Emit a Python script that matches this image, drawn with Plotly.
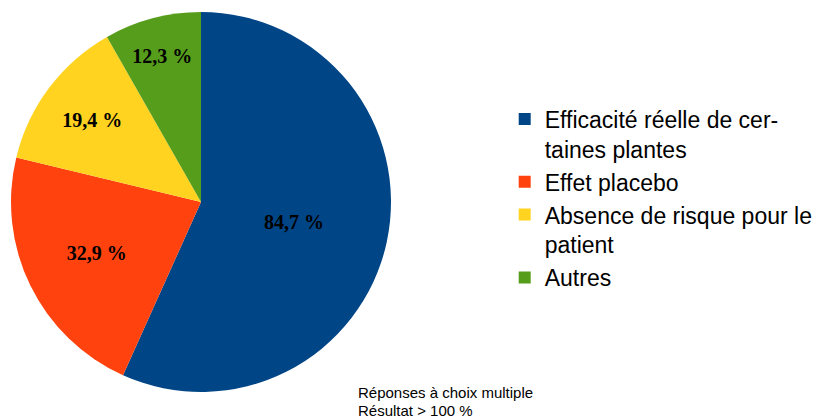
import plotly.graph_objects as go

categories = [
    "Efficacité réelle de cer-<br>taines plantes",
    "Effet placebo",
    "Absence de risque pour le<br>patient",
    "Autres",
]
values = [84.7, 32.9, 19.4, 12.3]
colors = ["#004586", "#ff420e", "#ffd320", "#579d1c"]
labels_text = [f"{v:.1f} %".replace(".", ",") for v in values]
notes = ["Réponses à choix multiple", "Résultat > 100 %"]

fig = go.Figure(
    go.Pie(
        labels=categories,
        values=values,
        text=labels_text,
        textinfo="text",
        textposition="inside",
        insidetextorientation="horizontal",
        textfont=dict(family="Liberation Serif", size=20, color="black", weight="bold"),
        marker=dict(colors=colors, line=dict(width=0)),
        sort=False,
        direction="clockwise",
        rotation=0,
        hoverinfo="label+value",
        domain=dict(x=[3 / 832, 383 / 832], y=[1 - 384 / 416, 1 - 4 / 416]),
    )
)

fig.update_layout(
    width=832,
    height=416,
    margin=dict(l=0, r=0, t=0, b=0),
    paper_bgcolor="white",
    plot_bgcolor="white",
    showlegend=True,
    legend=dict(
        x=0.597,
        y=0.785,
        xanchor="left",
        yanchor="top",
        valign="top",
        font=dict(family="Liberation Sans", size=23, color="black"),
        itemsizing="constant",
        tracegroupgap=0,
    ),
    uniformtext=dict(minsize=20, mode="show"),
    annotations=[
        dict(
            text=notes[0],
            x=348 / 832,
            y=1 - 374 / 416,
            xref="paper",
            yref="paper",
            xanchor="left",
            yanchor="top",
            align="left",
            showarrow=False,
            font=dict(family="Liberation Sans", size=15, color="black"),
        ),
        dict(
            text=notes[1],
            x=348 / 832,
            y=1 - 392 / 416,
            xref="paper",
            yref="paper",
            xanchor="left",
            yanchor="top",
            align="left",
            showarrow=False,
            font=dict(family="Liberation Sans", size=15, color="black"),
        ),
    ],
)

fig.write_html("out.html")
